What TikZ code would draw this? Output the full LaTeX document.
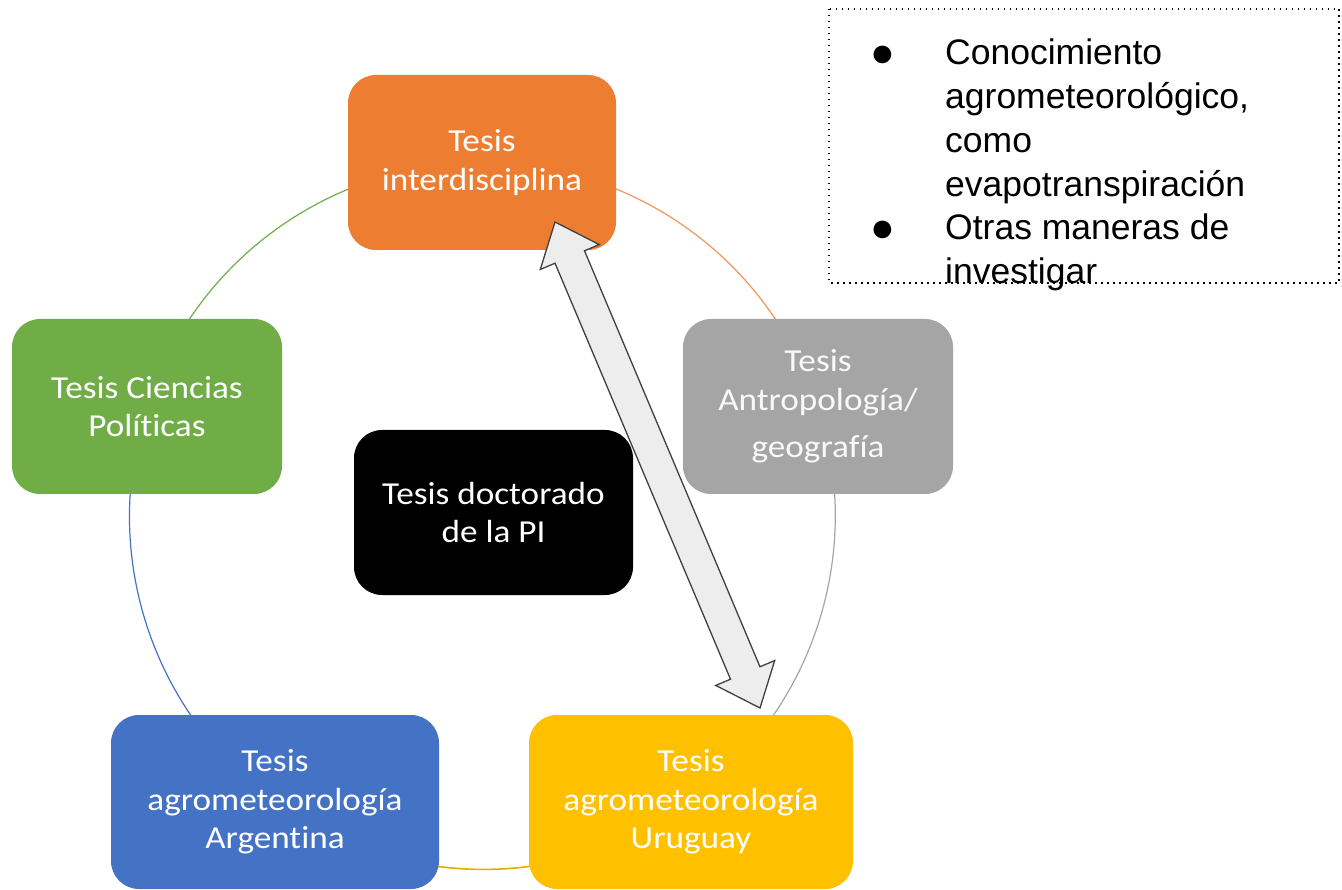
\documentclass[tikz,border=0pt]{standalone}
\usepackage{fontspec}
\setmainfont{Liberation Sans}
\newfontfamily\boxfont[FakeStretch=1.1,Ligatures=NoCommon]{Carlito}
\usetikzlibrary{calc}
\pgfdeclarelayer{bg}
\pgfsetlayers{bg,main}
\definecolor{cOrange}{HTML}{ED7D31}
\definecolor{cGray}{HTML}{A5A5A5}
\definecolor{cYellow}{HTML}{FFC000}
\definecolor{cBlue}{HTML}{4472C4}
\definecolor{cGreen}{HTML}{70AD47}
\definecolor{cArrowFill}{HTML}{EDEDED}
\definecolor{cArrowLine}{HTML}{404040}
\tikzset{
  tbox/.style={rectangle, rounded corners=28pt, inner sep=0pt, align=center,
    text=white, font=\boxfont\fontsize{32}{38.5}\selectfont},
  ring/.style={line width=1.2pt},
  bigarrow/.style={fill=cArrowFill, draw=cArrowLine, line width=1.3pt, line join=miter},
  notetext/.style={anchor=base west, align=left, inner sep=0pt,
    font=\fontsize{35.5}{44}\selectfont},
  bulletmark/.style={anchor=base, inner sep=0pt, font=\fontsize{41}{44}\selectfont}
}
\begin{document}
\begin{tikzpicture}[x=1pt,y=-1pt]
\useasboundingbox (0,0) rectangle (1342,890);

% cycle nodes
\node[tbox, fill=cOrange, minimum width=268pt, minimum height=175pt] (int) at (482,162.5) {Tesis\\interdisciplina};
\node[tbox, fill=cGray, text=white!95!gray, minimum width=270pt, minimum height=175pt] (ant) at (818,406.5) {Tesis\\Antropología/\\[9pt]geografía};
\node[tbox, fill=cYellow, minimum width=324pt, minimum height=174pt] (uru) at (691,802) {Tesis\\agrometeorología\\Uruguay};
\node[tbox, fill=cBlue, minimum width=328pt, minimum height=174pt] (arg) at (275,802) {Tesis\\agrometeorología\\Argentina};
\node[tbox, fill=cGreen, minimum width=270pt, minimum height=175pt] (pol) at (147,406.5) {Tesis Ciencias\\Políticas};
\node[tbox, fill=black, minimum width=279pt, minimum height=165pt] (pi) at (493.5,512.5) {Tesis doctorado\\de la PI};

% background and ring arcs (behind the boxes)
\begin{pgfonlayer}{bg}
\fill[white] (0,0) rectangle (1342,890);
\draw[ring, cOrange!80] (int.center) arc[start angle=-90, end angle=-18, radius=353];
\draw[ring, cGray] (ant.center) arc[start angle=-18, end angle=54, radius=353];
\draw[ring, cYellow!90!black, line width=1.6pt] (uru.center) arc[start angle=54, end angle=126, radius=353];
\draw[ring, cBlue] (arg.center) arc[start angle=126, end angle=198, radius=353];
\draw[ring, cGreen] (pol.center) arc[start angle=198, end angle=270, radius=353];
\end{pgfonlayer}

% double block arrow between interdisciplina and Uruguay
\coordinate (aT) at (555,222);
\coordinate (aB) at (760,708);
\draw[bigarrow]
  (aT)
  -- ($(aT)!38pt!(aB)!32pt!90:(aB)$)
  -- ($(aT)!38pt!(aB)!16pt!90:(aB)$)
  -- ($(aB)!38pt!(aT)!16pt!-90:(aT)$)
  -- ($(aB)!38pt!(aT)!32pt!-90:(aT)$)
  -- (aB)
  -- ($(aB)!38pt!(aT)!32pt!90:(aT)$)
  -- ($(aB)!38pt!(aT)!16pt!90:(aT)$)
  -- ($(aT)!38pt!(aB)!16pt!-90:(aB)$)
  -- ($(aT)!38pt!(aB)!32pt!-90:(aB)$)
  -- cycle;

% note box
\draw[line width=1.5pt, dash pattern=on 1.5pt off 4.5pt] (829,9) rectangle (1339,283);
\node[bulletmark] (b1) at (883,67) {●};
\node[notetext] (n1) at (945,197) {Conocimiento\\agrometeorológico,\\como\\evapotranspiración};
\node[bulletmark] (b2) at (883,242) {●};
\node[notetext] (n2) at (945,284) {Otras maneras de\\investigar};
\end{tikzpicture}
\end{document}
